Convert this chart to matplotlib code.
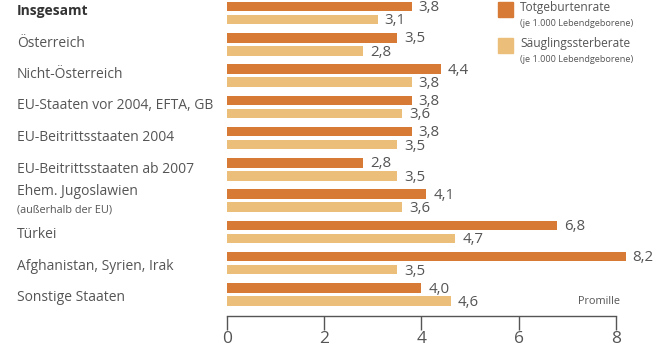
import matplotlib
matplotlib.use("Agg")
import matplotlib.pyplot as plt
from matplotlib import transforms

plt.rcParams['font.family'] = ['Open Sans', 'DejaVu Sans']

# Kategorien und Raten (je 1.000 Lebendgeborene)
kategorien = ["Insgesamt", "Österreich", "Nicht-Österreich", "EU-Staaten vor 2004, EFTA, GB",
              "EU-Beitrittsstaaten 2004", "EU-Beitrittsstaaten ab 2007", "Ehem. Jugoslawien",
              "Türkei", "Afghanistan, Syrien, Irak", "Sonstige Staaten"]
untertitel = {6: "(außerhalb der EU)"}
totgeburten = [3.8, 3.5, 4.4, 3.8, 3.8, 2.8, 4.1, 6.8, 8.2, 4.0]
saeuglinge = [3.1, 2.8, 3.8, 3.6, 3.5, 3.5, 3.6, 4.7, 3.5, 4.6]
x_ticks = [0, 2, 4, 6, 8]

dunkel = "#D67A35"
hell = "#EBBE7A"
grau = "#555555"

W, H = 671, 352
fig = plt.figure(figsize=(W / 100, H / 100), dpi=100)
ax = fig.add_axes([227 / W, 1 - 316 / H, 437 / W, 316 / H])
ax.set_xlim(0, 437 / 48.6)
ax.set_ylim(316, 0)

abstand = 31.28
hoehe = 9.5
for i, (t, s) in enumerate(zip(totgeburten, saeuglinge)):
    y1 = 6.5 + abstand * i
    y2 = 19.5 + abstand * i
    ax.barh(y1, t, height=hoehe, color=dunkel)
    ax.barh(y2, s, height=hoehe, color=hell)
    ax.annotate(f"{t:.1f}".replace(".", ","), (t, y1 + 1), xytext=(5, 0),
                textcoords="offset points", va="center", ha="left", fontsize=10.8, color=grau)
    ax.annotate(f"{s:.1f}".replace(".", ","), (s, y2 + 1.5), xytext=(5, 0),
                textcoords="offset points", va="center", ha="left", fontsize=10.8, color=grau)

# Beschriftung der Kategorien links
versatz = [-2, -1, -1, -1, -1, 0, 0, 3, 3, 3]
trans = transforms.blended_transform_factory(fig.transFigure, ax.transData)
for i, name in enumerate(kategorien):
    mitte = 13 + abstand * i + versatz[i]
    if i in untertitel:
        ax.text(17 / W, mitte - 9, name, transform=trans, va="center", ha="left",
                fontsize=10, color=grau)
        ax.text(17 / W, mitte + 9, untertitel[i], transform=trans, va="center", ha="left",
                fontsize=7.8, color=grau)
    else:
        ax.text(17 / W, mitte, name, transform=trans, va="center", ha="left",
                fontsize=10, color="#333333" if i == 0 else grau,
                fontweight="bold" if i == 0 else "normal")

# Achse
for s in ["top", "right", "left"]:
    ax.spines[s].set_visible(False)
ax.spines["bottom"].set_bounds(0, 8)
ax.spines["bottom"].set_color(grau)
ax.spines["bottom"].set_linewidth(1)
ax.set_yticks([])
ax.set_xticks(x_ticks)
ax.tick_params(axis="x", length=10, width=1, color=grau, labelcolor=grau,
               labelsize=12.5, pad=1)
fig.text(620 / W, 1 - 301 / H, "Promille", fontsize=7.8, color=grau, ha="right", va="center")

# Legende
for j, (farbe, titel) in enumerate([(dunkel, "Totgeburtenrate"), (hell, "Säuglingssterberate")]):
    oben = 2 + 36 * j
    fig.patches.append(plt.Rectangle((498 / W, 1 - (oben + 15) / H), 15 / W, 15 / H,
                                     transform=fig.transFigure, color=farbe))
    fig.text(520 / W, 1 - (oben + 6) / H, titel, fontsize=8.6, color=grau, va="center")
    fig.text(520 / W, 1 - (oben + 21) / H, "(je 1.000 Lebendgeborene)", fontsize=6.6,
             color=grau, va="center")

fig.savefig("out.png", dpi=100)
